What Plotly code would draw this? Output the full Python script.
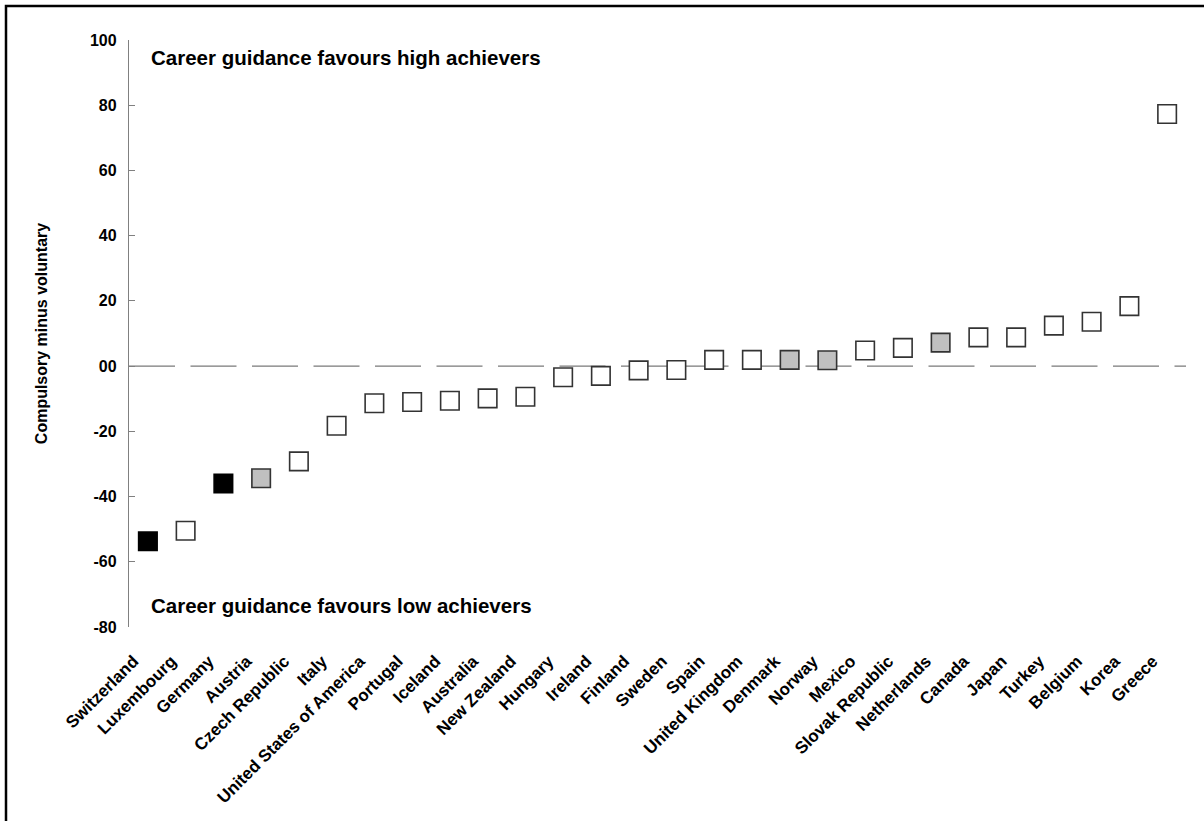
import plotly.graph_objects as go

countries = ["Switzerland", "Luxembourg", "Germany", "Austria", "Czech Republic", "Italy",
             "United States of America", "Portugal", "Iceland", "Australia", "New Zealand",
             "Hungary", "Ireland", "Finland", "Sweden", "Spain", "United Kingdom", "Denmark",
             "Norway", "Mexico", "Slovak Republic", "Netherlands", "Canada", "Japan", "Turkey",
             "Belgium", "Korea", "Greece"]
values = [-53.7, -50.5, -36.0, -34.4, -29.2, -18.3, -11.4, -11.0, -10.6, -9.9, -9.4,
          -3.4, -3.0, -1.3, -1.2, 1.9, 1.9, 1.9, 1.8, 4.8, 5.6, 7.2, 8.8, 8.8, 12.4,
          13.6, 18.4, 77.3]
groups = ["black", "white", "black", "grey", "white", "white", "white", "white", "white",
          "white", "white", "white", "white", "white", "white", "white", "white", "grey",
          "grey", "white", "white", "grey", "white", "white", "white", "white", "white", "white"]

y_tickvals = [-80, -60, -40, -20, 0, 20, 40, 60, 80, 100]
y_ticktext = ["-80", "-60", "-40", "-20", "00", "20", "40", "60", "80", "100"]

fill_map = {"black": "#000000", "grey": "#c0c0c0", "white": "#ffffff"}
line_map = {"black": "#000000", "grey": "#333333", "white": "#333333"}

FONT = "Arial, 'Liberation Sans', sans-serif"
LABEL_SHIFT = 0.38  # labels sit slightly left of category centres, as in the reference

idx = list(range(len(countries)))

fig = go.Figure()
fig.add_trace(go.Scatter(
    x=idx, y=values, mode="markers",
    marker=dict(symbol="square", size=18.5,
                color=[fill_map[g] for g in groups],
                line=dict(color=[line_map[g] for g in groups], width=1.6)),
    hoverinfo="skip", showlegend=False,
))

fig.update_layout(
    width=1204, height=821,
    margin=dict(l=129, r=18, t=40, b=194),
    paper_bgcolor="white", plot_bgcolor="white",
    font=dict(family=FONT, color="black"),
    xaxis=dict(range=[-0.5, 27.5], showticklabels=False, showgrid=False,
               zeroline=False, showline=False, ticks=""),
    xaxis2=dict(range=[-0.5, 27.5], overlaying="x", side="bottom", anchor="y",
                tickmode="array", tickvals=[i - LABEL_SHIFT for i in idx], ticktext=countries,
                tickangle=-45, showgrid=False, zeroline=False, showline=False, ticks="",
                tickfont=dict(family=FONT, size=17, color="black", weight="bold"),
                ticklabelstandoff=20),
    yaxis=dict(range=[-80, 100], tickmode="array", tickvals=y_tickvals, ticktext=y_ticktext,
               showgrid=False, zeroline=False, showline=True, linecolor="#808080", linewidth=1.3,
               ticks="inside", ticklen=6, tickcolor="#808080", tickwidth=1.3,
               tickfont=dict(family=FONT, size=16, color="black", weight="bold"),
               ticklabelstandoff=8,
               title=dict(text="Compulsory minus voluntary", standoff=38,
                          font=dict(family=FONT, size=16, color="black", weight="bold"))),
    shapes=[
        dict(type="line", xref="x", yref="y", x0=-0.5, x1=27.5, y0=0, y1=0,
             line=dict(color="#7a7a7a", width=1.4, dash="46px,15.5px"), layer="below"),
        dict(type="rect", xref="paper", yref="paper",
             x0=(6 - 129) / 1057, x1=1.2, y0=-0.6, y1=(627 - 6) / 587,
             line=dict(color="black", width=2.5), fillcolor="rgba(0,0,0,0)", layer="above"),
    ],
    annotations=[
        dict(text="Career guidance favours high achievers", xref="paper", yref="paper",
             x=(149 - 129) / 1057, y=(627 - 57) / 587, xanchor="left", yanchor="middle",
             showarrow=False, font=dict(family=FONT, size=20.5, color="black", weight="bold")),
        dict(text="Career guidance favours low achievers", xref="paper", yref="paper",
             x=(149 - 129) / 1057, y=(627 - 605) / 587, xanchor="left", yanchor="middle",
             showarrow=False, font=dict(family=FONT, size=20.5, color="black", weight="bold")),
    ],
)
# invisible trace so that the label axis (xaxis2) is rendered
fig.add_trace(go.Scatter(x=[None], y=[None], xaxis="x2", yaxis="y", showlegend=False,
                         hoverinfo="skip"))

fig.write_html("out.html", config={"displayModeBar": False},
               post_script="document.body.style.margin='0px';")
